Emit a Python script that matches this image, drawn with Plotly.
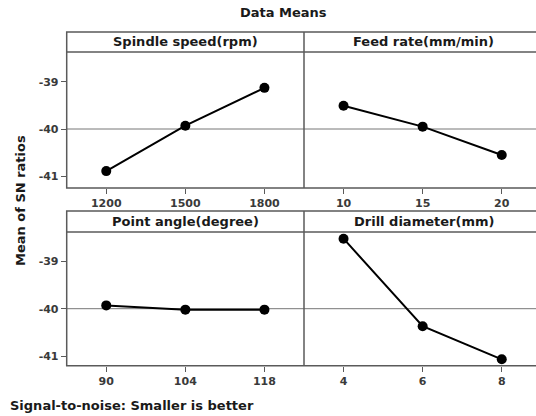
import plotly.graph_objects as go

W, H = 536, 416

factors = ["Spindle speed(rpm)", "Feed rate(mm/min)", "Point angle(degree)", "Drill diameter(mm)"]
levels = [["1200", "1500", "1800"], ["10", "15", "20"], ["90", "104", "118"], ["4", "6", "8"]]
sn_means = [
    [-40.89, -39.93, -39.13],
    [-39.51, -39.95, -40.55],
    [-39.93, -40.02, -40.02],
    [-38.52, -40.37, -41.07],
]
overall_mean = -40.0
y_ticks = [-39, -40, -41]

def px(x):
    return x / W

def py(y):
    return 1 - y / H

xl, xm, xr = 66.7, 304.0, 543.0
rows = [
    dict(top=32, hdr=52, bot=188),
    dict(top=211, hdr=232, bot=365.7),
]
ppu = 47.3  # pixels per unit
y_ref_px = [129.0, 308.7]

fig = go.Figure()
frame_col = "#5a5a5a"
font_fam = "DejaVu Sans, Verdana, sans-serif"
tick_font = dict(family=font_fam, size=11, color="#3a3a3a", weight="bold")
lbl_size = 13

for i in range(4):
    r = i // 2
    c = i % 2
    row = rows[r]
    n = i + 1
    xa = "xaxis" if n == 1 else f"xaxis{n}"
    ya = "yaxis" if n == 1 else f"yaxis{n}"
    xref = "x" if n == 1 else f"x{n}"
    yref = "y" if n == 1 else f"y{n}"
    x0 = xl if c == 0 else xm
    x1 = xm if c == 0 else W
    xrange = [-0.5, -0.5 + (x1 - x0) / ((xm - xl) / 3.0)]
    ylo = overall_mean - (row["bot"] - y_ref_px[r]) / ppu
    yhi = overall_mean + (y_ref_px[r] - row["hdr"]) / ppu
    fig.add_trace(go.Scatter(
        x=list(range(3)), y=sn_means[i], mode="lines+markers",
        line=dict(color="black", width=2),
        marker=dict(color="black", size=10),
        xaxis=xref, yaxis=yref, showlegend=False, cliponaxis=False,
    ))
    fig.layout[xa] = dict(
        domain=[px(x0), px(x1)], range=xrange, anchor=yref,
        tickmode="array", tickvals=list(range(3)), ticktext=levels[i],
        ticks="outside", ticklen=5, tickcolor=frame_col, tickwidth=1,
        showgrid=False, zeroline=False, showline=False,
        tickfont=tick_font, fixedrange=True,
    )
    fig.layout[ya] = dict(
        domain=[py(row["bot"]), py(row["hdr"])], range=[ylo, yhi], anchor=xref,
        tickmode="array", tickvals=y_ticks, ticktext=[str(v) for v in y_ticks],
        ticks="outside" if c == 0 else "", ticklen=5, tickcolor=frame_col, tickwidth=1,
        showticklabels=(c == 0),
        showgrid=False, zeroline=False, showline=False,
        tickfont=tick_font, fixedrange=True,
    )
    fig.add_shape(type="line", xref=f"{xref} domain", yref=yref, x0=0, x1=1,
                  y0=overall_mean, y1=overall_mean, line=dict(color="#777777", width=1), layer="below")
    fig.add_annotation(text=f"<b>{factors[i]}</b>", xref="paper", yref="paper",
                       x=px(((xl if c == 0 else xm) + (xm if c == 0 else xr)) / 2),
                       y=py((row["top"] + row["hdr"]) / 2),
                       showarrow=False, xanchor="center", yanchor="middle",
                       font=dict(family=font_fam, size=lbl_size, color="#1a1a1a"))

for row in rows:
    fig.add_shape(type="rect", xref="paper", yref="paper", x0=px(xl), x1=px(xr),
                  y0=py(row["bot"]), y1=py(row["top"]), line=dict(color=frame_col, width=1.5))
    fig.add_shape(type="line", xref="paper", yref="paper", x0=px(xl), x1=px(xr),
                  y0=py(row["hdr"]), y1=py(row["hdr"]), line=dict(color=frame_col, width=1.5))
    fig.add_shape(type="line", xref="paper", yref="paper", x0=px(xm), x1=px(xm),
                  y0=py(row["bot"]), y1=py(row["top"]), line=dict(color=frame_col, width=1.5))

fig.add_annotation(text="<b>Data Means</b>", xref="paper", yref="paper", x=px(283), y=py(12),
                   showarrow=False, xanchor="center", yanchor="middle",
                   font=dict(family=font_fam, size=lbl_size, color="#1a1a1a"))
fig.add_annotation(text="<b>Mean of SN ratios</b>", xref="paper", yref="paper", x=px(21), y=py(201),
                   showarrow=False, xanchor="center", yanchor="middle", textangle=-90,
                   font=dict(family=font_fam, size=lbl_size, color="#1a1a1a"))
fig.add_annotation(text="<b>Signal-to-noise: Smaller is better</b>", xref="paper", yref="paper",
                   x=px(8), y=py(405), showarrow=False, xanchor="left", yanchor="middle",
                   font=dict(family=font_fam, size=lbl_size, color="#1a1a1a"))

fig.update_layout(width=W, height=H, margin=dict(l=0, r=0, t=0, b=0),
                  paper_bgcolor="white", plot_bgcolor="white")
fig.write_html("out.html")
